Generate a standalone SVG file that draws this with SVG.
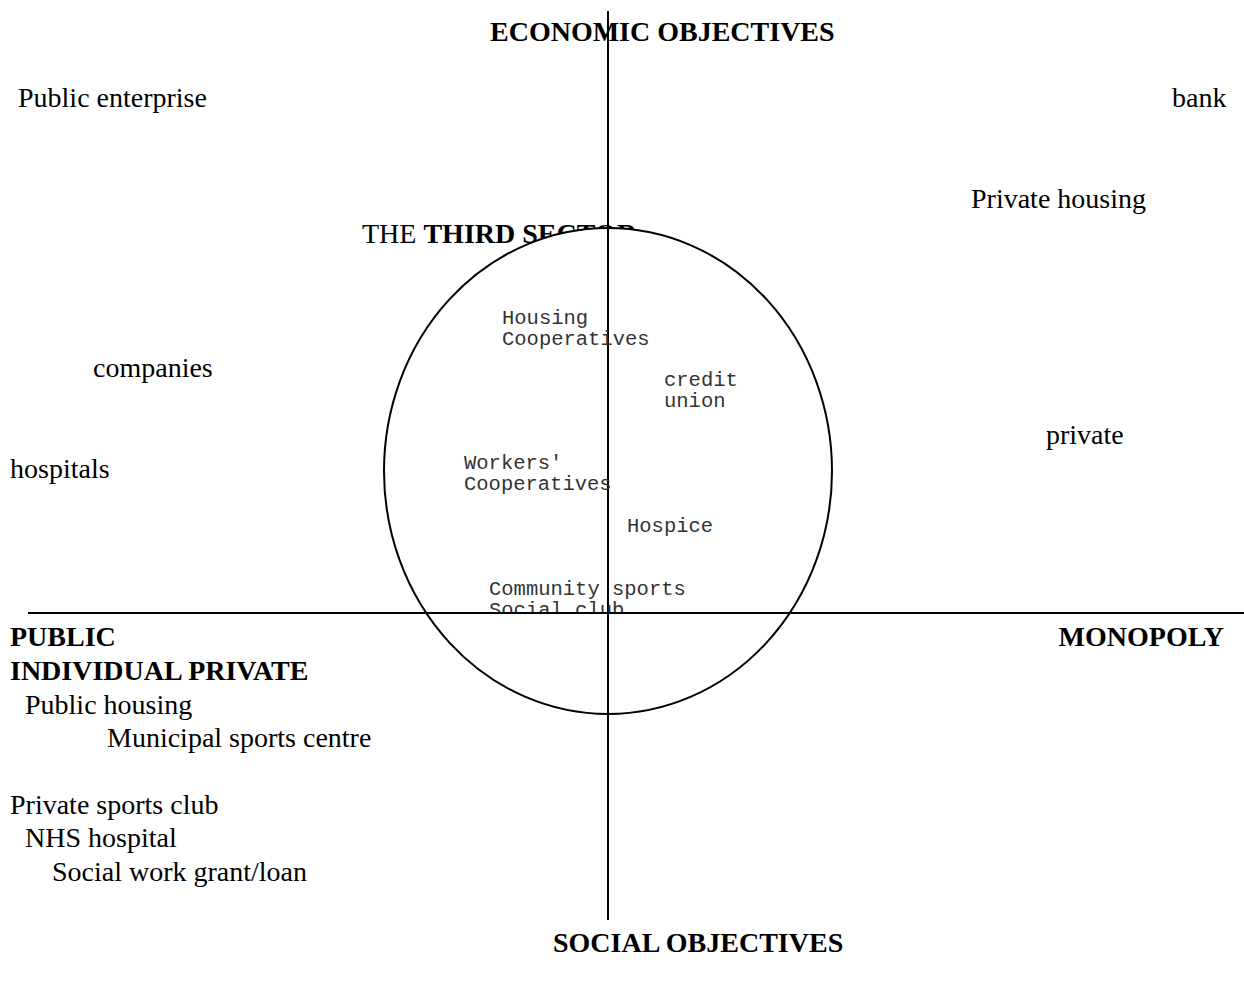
<svg xmlns="http://www.w3.org/2000/svg" width="1244" height="987" viewBox="0 0 1244 987">
<style>
.s{font-family:"Liberation Serif","Times New Roman",serif;font-size:28px;fill:#000}
.b{font-weight:bold}
.m{font-family:"Liberation Mono","Courier New",monospace;font-size:20.5px;fill:#333}
.ln{stroke:#000;stroke-width:2;fill:none}
</style>
<defs>
<clipPath id="cl"><rect x="0" y="0" width="1244" height="612"/></clipPath>
</defs>
<rect width="1244" height="987" fill="#fff"/>
<g id="title-top"><text class="s b" x="490" y="41">ECONOMIC OBJECTIVES</text></g>
<g id="public-enterprise"><text class="s" x="18" y="107">Public enterprise</text></g>
<g id="bank"><text class="s" x="1172" y="107">bank</text></g>
<g id="private-housing"><text class="s" x="971" y="208">Private housing</text></g>
<g id="third-sector-label"><text class="s" x="362" y="243">THE <tspan class="b">THIRD SECTOR</tspan></text></g>
<g id="companies"><text class="s" x="93" y="377">companies</text></g>
<g id="private"><text class="s" x="1046" y="444">private</text></g>
<g id="hospitals"><text class="s" x="10" y="478">hospitals</text></g>
<g id="third-sector"><ellipse cx="608" cy="471" rx="224" ry="243" fill="#fff" stroke="#000" stroke-width="2"/></g>
<g id="connectors">
<line class="ln" x1="608" y1="11" x2="608" y2="920"/>
<line class="ln" x1="28" y1="613" x2="1244" y2="613"/>
</g>
<g id="housing-coops"><text class="m" x="502" y="324">Housing</text><text class="m" x="502" y="345">Cooperatives</text></g>
<g id="credit-union"><text class="m" x="664" y="386">credit</text><text class="m" x="664" y="407">union</text></g>
<g id="workers-coops"><text class="m" x="464" y="469">Workers'</text><text class="m" x="464" y="490">Cooperatives</text></g>
<g id="hospice"><text class="m" x="627" y="532">Hospice</text></g>
<g id="community-sports" clip-path="url(#cl)"><text class="m" x="489" y="595">Community sports</text><text class="m" x="489" y="616">Social club</text></g>
<g id="public"><text class="s b" x="10" y="646">PUBLIC</text></g>
<g id="monopoly"><text class="s b" x="1224" y="646" text-anchor="end">MONOPOLY</text></g>
<g id="individual-private"><text class="s b" x="10" y="680">INDIVIDUAL PRIVATE</text></g>
<g id="public-housing"><text class="s" x="25" y="714">Public housing</text></g>
<g id="municipal"><text class="s" x="107" y="747">Municipal sports centre</text></g>
<g id="private-sports"><text class="s" x="10" y="814">Private sports club</text></g>
<g id="nhs"><text class="s" x="25" y="847">NHS hospital</text></g>
<g id="social-work"><text class="s" x="52" y="881">Social work grant/loan</text></g>
<g id="title-bottom"><text class="s b" x="553" y="952">SOCIAL OBJECTIVES</text></g>
</svg>
